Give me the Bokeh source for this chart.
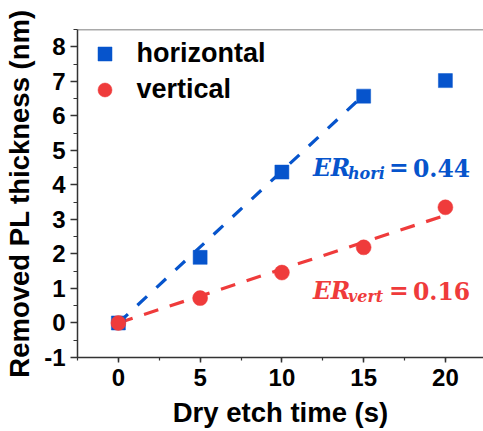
from bokeh.plotting import figure
from bokeh.models import (Range1d, SingleIntervalTicker, Legend, LegendItem, Span,
                          NumeralTickFormatter)
from bokeh.core.properties import value
from bokeh.embed import file_html
from bokeh.resources import INLINE

# ---- data ----
time_s = [0, 5, 10, 15, 20]
horizontal = [0.0, 1.90, 4.37, 6.57, 7.02]
vertical = [0.0, 0.72, 1.46, 2.19, 3.35]

fit_hori_x = [0, 15]
fit_hori_y = [0.0, 6.6]
fit_vert_x = [0, 20]
fit_vert_y = [0.0, 3.12]

er_hori = "0.44"
er_vert = "0.16"

BLUE = "#0654cc"
RED = "#ef3b3b"
AX = "#333333"
SANS = "Liberation Sans"
SERIF = "DejaVu Serif"

p = figure(width=483, height=431, output_backend="svg", toolbar_location=None,
           x_range=Range1d(-2.5, 22.33), y_range=Range1d(-1, 8.5),
           min_border_left=77, min_border_right=0, min_border_top=29,
           min_border_bottom=74)
p.outline_line_color = None
p.grid.visible = False
p.background_fill_color = "white"

for ax in (p.xaxis[0], p.yaxis[0]):
    ax.axis_line_color = AX
    ax.axis_line_width = 1.5
    ax.major_tick_line_color = AX
    ax.minor_tick_line_color = AX
    ax.major_tick_line_width = 1.5
    ax.minor_tick_line_width = 1.2
    ax.major_label_text_font = SANS
    ax.major_label_text_font_style = "bold"
    ax.major_label_text_font_size = "24px"
    ax.major_label_text_color = "black"
    ax.axis_label_text_font = SANS
    ax.axis_label_text_font_style = "bold"
    ax.axis_label_text_font_size = "27.5px"
    ax.axis_label_text_color = "black"
    ax.formatter = NumeralTickFormatter(format="0")

p.xaxis.ticker = SingleIntervalTicker(interval=5, num_minor_ticks=2)
p.yaxis.ticker = SingleIntervalTicker(interval=1, num_minor_ticks=2)
p.xaxis.major_tick_in = 0
p.xaxis.major_tick_out = 5
p.xaxis.minor_tick_in = 0
p.xaxis.minor_tick_out = 3
p.yaxis.major_tick_in = 0
p.yaxis.major_tick_out = 7
p.yaxis.minor_tick_in = 0
p.yaxis.minor_tick_out = 4
p.xaxis.major_label_standoff = 6
p.yaxis.major_label_standoff = 5
p.xaxis.axis_label = "Dry etch time (s)"
p.yaxis.axis_label = "Removed PL thickness (nm)"
p.xaxis.axis_label_standoff = 8
p.yaxis.axis_label_standoff = 6

# top frame border
p.add_layout(Span(location=8.5, dimension="width", line_color="#555555", line_width=1.5))

# fit lines
p.line(fit_hori_x, fit_hori_y, line_color=BLUE, line_width=3.2, line_dash="13 13")
p.line(fit_vert_x, fit_vert_y, line_color=RED, line_width=3.2, line_dash="15 12")

r_h = p.scatter(time_s, horizontal, marker="square", size=14, fill_color=BLUE,
                line_color=BLUE, line_width=0.5)
r_v = p.scatter(time_s, vertical, marker="circle", size=15, fill_color=RED,
                line_color=RED, line_width=0.5)

legend = Legend(items=[LegendItem(label="horizontal", renderers=[r_h]),
                       LegendItem(label="vertical", renderers=[r_v])],
                location=(6.5, 250.5), margin=0, padding=0, spacing=1,
                glyph_width=41, glyph_height=35, label_standoff=12,
                label_text_font=SANS, label_text_font_style="bold",
                label_text_font_size="27px", label_text_color="black",
                border_line_color=None, background_fill_alpha=0)
p.add_layout(legend)

# annotations ER_hori / ER_vert
ann_x = [11.9]
def annot(y, sub, val, color):
    p.text(x=ann_x, y=[y], text=["ER"], text_font=value(SERIF),
           text_font_style="bold italic", text_font_size="23.5px", text_color=color,
           text_baseline="alphabetic", text_align="left")
    p.text(x=ann_x, y=[y], text=[sub], text_font=value(SERIF), x_offset=35, y_offset=6,
           text_font_style="bold italic", text_font_size="16px", text_color=color,
           text_baseline="alphabetic", text_align="left")
    p.text(x=ann_x, y=[y], text=["="], text_font=value(SERIF), x_offset=76,
           text_font_style="bold", text_font_size="23.5px", text_color=color,
           text_baseline="alphabetic", text_align="left")
    p.text(x=ann_x, y=[y], text=[val], text_font=value(SERIF), x_offset=100,
           text_font_style="bold", text_font_size="23.5px", text_color=color,
           text_baseline="alphabetic", text_align="left")

annot(4.5, "hori", er_hori, BLUE)
annot(0.94, "vert", er_vert, RED)

open("out.html", "w").write(file_html(p, INLINE))
